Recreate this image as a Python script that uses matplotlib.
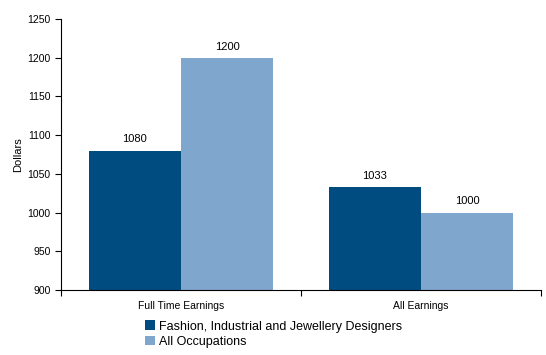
import numpy as np
import matplotlib.pyplot as plt

plt.rcParams['font.family'] = ['Liberation Sans', 'DejaVu Sans']

categories = ['Full Time Earnings', 'All Earnings']
series = ['Fashion, Industrial and Jewellery Designers', 'All Occupations']
designers = [1080, 1033]
all_occ = [1200, 1000]
colors = ['#004b80', '#7fa6cc']

fig = plt.figure(figsize=(5.46, 3.55), dpi=100)
ax = fig.add_axes([0.1117, 0.183, 0.879, 0.7635])

x = np.arange(len(categories))
w = 0.385
b1 = ax.bar(x - w/2, designers, w, color=colors[0], label=series[0])
b2 = ax.bar(x + w/2, all_occ, w, color=colors[1], label=series[1])

for bars, vals in [(b1, designers), (b2, all_occ)]:
    for r, v in zip(bars, vals):
        ax.text(r.get_x() + r.get_width()/2, v + 8, str(v), ha='center', va='bottom', fontsize=8)

ax.set_ylim(900, 1250)
ax.set_yticks(np.arange(900, 1251, 50))
ax.set_xlim(-0.5, 1.5)
ax.set_xticks([-0.5, 0.5, 1.5])
ax.set_xticklabels([])
ax.set_xticks(x, minor=True)
ax.set_xticklabels(categories, minor=True)
ax.tick_params(axis='x', which='minor', length=0, labelsize=7.5, pad=8)
ax.tick_params(axis='x', which='major', length=4, direction='out')
ax.tick_params(axis='y', labelsize=7.5, length=4, direction='out')
ax.set_ylabel('Dollars', fontsize=8, labelpad=3)
for s in ['top', 'right']:
    ax.spines[s].set_visible(False)

fig.legend(handles=[b1, b2], loc='upper left', bbox_to_anchor=(0.255, 0.115),
           frameon=False, fontsize=9, handlelength=0.8, handleheight=0.8,
           handletextpad=0.3, labelspacing=0.25, borderpad=0)

fig.savefig('out.png', dpi=100)
